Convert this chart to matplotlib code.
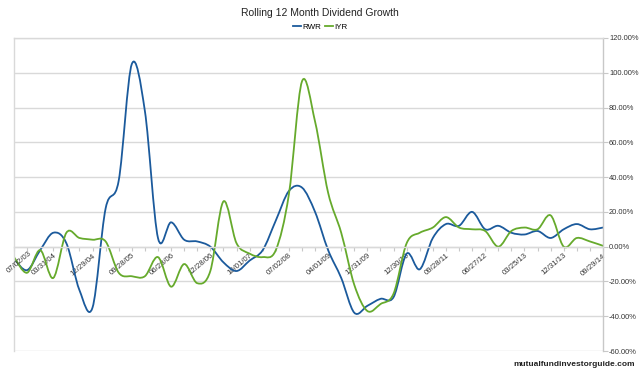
import matplotlib
matplotlib.use("Agg")
import matplotlib.pyplot as plt
import numpy as np
from matplotlib.path import Path
from matplotlib.patches import PathPatch
from matplotlib.lines import Line2D
from matplotlib.ticker import FuncFormatter

plt.rcParams['font.family'] = ['Liberation Sans', 'DejaVu Sans']

# quarterly rolling 12 month dividend growth, in percent
rwr = [-7, -13.5, -2, 8, 2, -25, -35, 22, 38, 105, 78, 5, 14, 4, 3, 0,
       -9, -14, -8, -2, 15, 32, 34, 20, -2, -18, -38, -34, -30, -29, -4, -13,
       5, 13, 12, 20, 10, 12, 8, 7, 9, 5, 10, 13, 10, 11]
iyr = [-6, -15, -2, -18, 8, 5, 4, 3, -15, -17, -17, -6, -23, -10, -21, -14,
       26, 2, -4, -6, -2, 30, 95, 72, 31, 8, -22, -37, -33, -27, 2, 8,
       11, 17, 11, 10, 9, 0, 9, 11, 10, 18, 0, 5, 3, 0.5]
date_labels = ["07/02/03", "03/31/04", "12/29/04", "09/28/05", "06/28/06",
               "12/28/06", "10/01/07", "07/02/08", "04/01/09", "12/31/09",
               "12/30/10", "09/28/11", "06/27/12", "03/25/13", "12/31/13",
               "09/29/14"]

BLUE = "#1b5a9c"
GREEN = "#66aa2c"


def smooth_path(x, y):
    # Excel style smoothed line: cubic bezier through every data point
    p = np.column_stack([x, y]).astype(float)
    n = len(p)
    verts = [p[0]]
    codes = [Path.MOVETO]
    for i in range(n - 1):
        p0 = p[i - 1] if i > 0 else p[i]
        p3 = p[i + 2] if i + 2 < n else p[i + 1]
        c1 = p[i] + (p[i + 1] - p0) / 6.0
        c2 = p[i + 1] - (p3 - p[i]) / 6.0
        verts += [c1, c2, p[i + 1]]
        codes += [Path.CURVE4] * 3
    return Path(verts, codes)


fig = plt.figure(figsize=(6.4, 3.75), dpi=100)
ax = fig.add_axes([14 / 640, 1 - 351 / 375, 589 / 640, 313 / 375])

x = np.arange(len(rwr))
for vals, col in [(rwr, BLUE), (iyr, GREEN)]:
    ax.add_patch(PathPatch(smooth_path(x, vals), facecolor="none",
                           edgecolor=col, lw=1.3, capstyle="round"))

ax.set_xlim(0, len(rwr) - 1)
ax.set_ylim(-60, 120)
ax.set_yticks(np.arange(-60, 121, 20))
ax.yaxis.set_major_formatter(FuncFormatter(lambda v, p: "%.2f%%" % v))
ax.yaxis.tick_right()
ax.tick_params(axis="y", length=3.5, color="#c8c8c8", labelsize=5.4,
               labelcolor="#333333", pad=0.8)
ax.grid(axis="y", color="#d9d9d9", lw=1)
ax.set_axisbelow(True)

# category axis crosses at 0
ax.spines["bottom"].set_position(("data", 0))
ax.set_xticks(x)
labels = [""] * len(x)
for k, lab in enumerate(date_labels[1:], start=1):
    labels[k * 3] = lab
ax.set_xticklabels(labels)
ax.tick_params(axis="x", length=3, color="#c8c8c8", labelsize=5.6,
               labelcolor="#333333", pad=1)
for t in ax.get_xticklabels():
    t.set_rotation(40)
    t.set_ha("right")
    t.set_va("top")
    t.set_rotation_mode("anchor")

# first label is pushed inside the chart, as in the original
ax.annotate(date_labels[0], xy=(0, 0), xycoords="data", xytext=(10.5, -2.5),
            textcoords="offset points", rotation=40, rotation_mode="anchor",
            ha="right", va="top", fontsize=5.6, color="#333333")

for s in ax.spines.values():
    s.set_color("#d9d9d9")
    s.set_linewidth(1)
ax.spines["right"].set_color("#c8c8c8")

fig.text(0.5, 1 - 13 / 375, "Rolling 12 Month Dividend Growth",
         ha="center", va="center", fontsize=7.5, color="#222222")
handles = [Line2D([], [], color=BLUE, lw=1.3), Line2D([], [], color=GREEN, lw=1.3)]
fig.legend(handles, ["RWR", "IYR"], loc="center", bbox_to_anchor=(0.5, 1 - 27 / 375),
           ncol=2, frameon=False, fontsize=5.8, handlelength=1.0,
           handletextpad=0.15, columnspacing=0.5, borderpad=0)
fig.text(635 / 640, 1 - 365 / 375, "mutualfundinvestorguide.com", ha="right",
         va="center", fontsize=6, fontweight="bold", color="#222222")

fig.savefig("out.png", dpi=100)
